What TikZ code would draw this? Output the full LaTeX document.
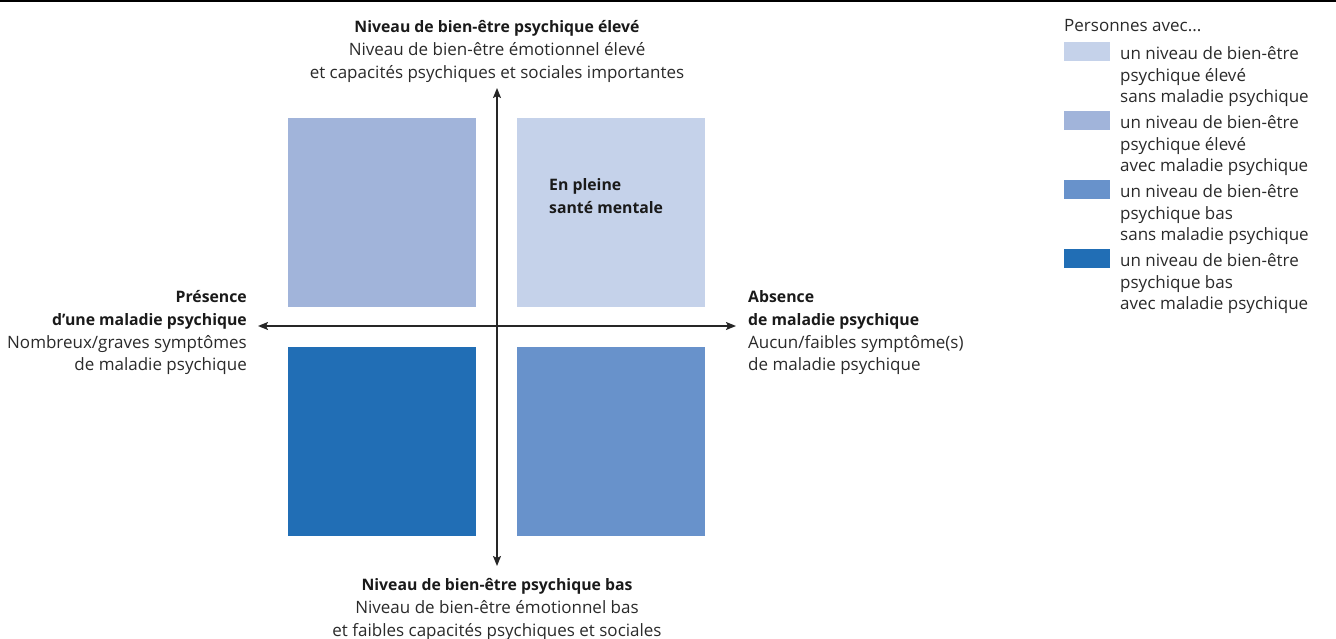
\documentclass[tikz,border=0pt]{standalone}
\usepackage{fontspec}
\setmainfont{Open Sans}
\usetikzlibrary{arrows.meta}
\definecolor{cA}{HTML}{C5D2EA}
\definecolor{cB}{HTML}{A1B4DA}
\definecolor{cC}{HTML}{6892CB}
\definecolor{cD}{HTML}{216EB5}
\definecolor{txt}{HTML}{2A2A2A}
\definecolor{btxt}{HTML}{1A1A1A}
\tikzset{
  lbl/.style={inner sep=0pt, yshift=-1.5pt, text=txt, font=\fontsize{17}{20}\selectfont},
  blbl/.style={inner sep=0pt, yshift=-1.5pt, text=btxt, font=\fontsize{15.8}{19}\selectfont\bfseries},
  quad/.style={draw=none, minimum width=188pt, minimum height=189pt, inner sep=0pt},
  swatch/.style={draw=none, minimum width=46pt, minimum height=19pt, inner sep=0pt, anchor=north west},
  axis/.style={line width=1.4pt, black!85, {Stealth[length=10pt,width=8pt,inset=2pt]}-{Stealth[length=10pt,width=8pt,inset=2pt]}}
}
\begin{document}
\begin{tikzpicture}[x=1pt,y=-1pt]
\useasboundingbox (0,0) rectangle (1336,639);
\draw[line width=2pt] (0,1) -- (1336,1);
% quadrants
\node[quad, fill=cB, anchor=north west] (tl) at (288,118) {};
\node[quad, fill=cA, anchor=north west] (tr) at (517,118) {};
\node[quad, fill=cD, anchor=north west] (bl) at (288,347) {};
\node[quad, fill=cC, anchor=north west] (br) at (517,347) {};
% axes
\coordinate (vt) at (497,88);
\coordinate (vb) at (497,566);
\coordinate (hl) at (258,326);
\coordinate (hr) at (736,326);
\draw[axis] (vb) -- (vt);
\draw[axis] (hl) -- (hr);
% top
\node[blbl, anchor=base] (t1) at (497,31) {Niveau de bien-être psychique élevé};
\node[lbl, anchor=base] (t2) at (497,54) {Niveau de bien-être émotionnel élevé};
\node[lbl, anchor=base] (t3) at (497,77) {et capacités psychiques et sociales importantes};
% bottom
\node[blbl, anchor=base] (b1) at (497,589) {Niveau de bien-être psychique bas};
\node[lbl, anchor=base] (b2) at (497,612) {Niveau de bien-être émotionnel bas};
\node[lbl, anchor=base] (b3) at (497,635) {et faibles capacités psychiques et sociales};
% left
\node[blbl, anchor=base east] (l1) at (247,301) {Présence};
\node[blbl, anchor=base east] (l2) at (247,324) {d’une maladie psychique};
\node[lbl, anchor=base east] (l3) at (247,347) {Nombreux/graves symptômes};
\node[lbl, anchor=base east] (l4) at (247,369) {de maladie psychique};
% right
\node[blbl, anchor=base west] (r1) at (748,301) {Absence};
\node[blbl, anchor=base west] (r2) at (748,324) {de maladie psychique};
\node[lbl, anchor=base west] (r3) at (748,347) {Aucun/faibles symptôme(s)};
\node[lbl, anchor=base west] (r4) at (748,369) {de maladie psychique};
% inside
\node[blbl, anchor=base west] (e1) at (549,189) {En pleine};
\node[blbl, anchor=base west] (e2) at (549,212) {santé mentale};
% legend
\node[lbl, anchor=base west] (lg) at (1064,30) {Personnes avec...};
\node[swatch, fill=cA] (s1) at (1064,42) {};
\node[swatch, fill=cB] (s2) at (1064,111) {};
\node[swatch, fill=cC] (s3) at (1064,180) {};
\node[swatch, fill=cD] (s4) at (1064,249) {};
\node[lbl, anchor=base west] (a1) at (1120,58) {un niveau de bien-être};
\node[lbl, anchor=base west] (a2) at (1120,80) {psychique élevé};
\node[lbl, anchor=base west] (a3) at (1120,101) {sans maladie psychique};
\node[lbl, anchor=base west] (c1) at (1120,127) {un niveau de bien-être};
\node[lbl, anchor=base west] (c2) at (1120,149) {psychique élevé};
\node[lbl, anchor=base west] (c3) at (1120,170) {avec maladie psychique};
\node[lbl, anchor=base west] (d1) at (1120,196) {un niveau de bien-être};
\node[lbl, anchor=base west] (d2) at (1120,218) {psychique bas};
\node[lbl, anchor=base west] (d3) at (1120,239) {sans maladie psychique};
\node[lbl, anchor=base west] (f1) at (1120,265) {un niveau de bien-être};
\node[lbl, anchor=base west] (f2) at (1120,287) {psychique bas};
\node[lbl, anchor=base west] (f3) at (1120,308) {avec maladie psychique};
\end{tikzpicture}
\end{document}
